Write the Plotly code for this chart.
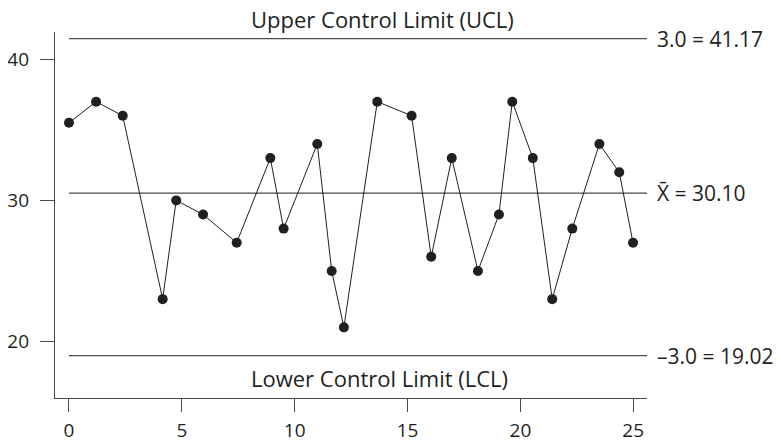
import plotly.graph_objects as go

# Sample observations (x position, measured value)
sample_x = [0, 1.2, 2.38, 4.15, 4.75, 5.94, 7.43, 8.92, 9.51, 11.0, 11.64, 12.18, 13.66,
            15.18, 16.05, 16.96, 18.12, 19.05, 19.64, 20.55, 21.41, 22.3, 23.5, 24.38, 24.99]
sample_y = [35.5, 37, 36, 23, 30, 29, 27, 33, 28, 34, 25, 21, 37,
            36, 26, 33, 25, 29, 37, 33, 23, 28, 34, 32, 27]

# Control lines as drawn
limit_names = ["UCL", "Center", "LCL"]
limit_values = [41.47, 30.51, 18.99]
limit_labels = ["3.0 = 41.17", "X\u0304 = 30.10", "\u20133.0 = 19.02"]
line_start_end = [0, 25.61]

x_ticks = [0, 5, 10, 15, 20, 25]
y_ticks = [20, 30, 40]

FONT = "'Open Sans', Lato, sans-serif"
TXT = "#231f20"

fig = go.Figure()

for name, val in zip(limit_names, limit_values):
    fig.add_trace(go.Scatter(
        x=line_start_end, y=[val, val], mode="lines",
        line=dict(color="#4a4a4a", width=1.2), name=name,
        hoverinfo="skip", showlegend=False, cliponaxis=False))

fig.add_trace(go.Scatter(
    x=sample_x, y=sample_y, mode="lines+markers",
    line=dict(color="#231f20", width=1),
    marker=dict(color="#231f20", size=10),
    showlegend=False, name="Samples"))

annotations = []
for val, lab in zip(limit_values, limit_labels):
    annotations.append(dict(
        x=line_start_end[1], y=val, xref="x", yref="y", text=lab,
        showarrow=False, xanchor="left", yanchor="middle", xshift=8,
        font=dict(family=FONT, size=21, color=TXT)))

annotations.append(dict(
    x=13.9, y=1.035, xref="x", yref="paper", text="Upper Control Limit (UCL)",
    showarrow=False, xanchor="center", yanchor="middle",
    font=dict(family=FONT, size=22, color=TXT)))
annotations.append(dict(
    x=13.75, y=17.4, xref="x", yref="y", text="Lower Control Limit (LCL)",
    showarrow=False, xanchor="center", yanchor="middle",
    font=dict(family=FONT, size=22, color=TXT)))

fig.update_layout(
    width=773, height=435,
    margin=dict(l=47, r=134, t=24, b=45),
    paper_bgcolor="white", plot_bgcolor="white",
    font=dict(family=FONT, size=19, color=TXT),
    annotations=annotations,
    xaxis=dict(range=[-0.62, 25.61], tickvals=x_ticks, ticks="outside", ticklen=13,
               tickwidth=1.2, tickcolor="#4a4a4a", showline=True, linecolor="#4a4a4a",
               linewidth=1.2, showgrid=False, zeroline=False, automargin=False,
               ticklabelstandoff=2,
               tickfont=dict(family=FONT, size=19, color=TXT)),
    yaxis=dict(range=[15.99, 41.94], tickvals=y_ticks, ticks="outside", ticklen=14,
               tickwidth=1.2, tickcolor="#4a4a4a", showline=True, linecolor="#4a4a4a",
               linewidth=1.2, showgrid=False, zeroline=False, automargin=False,
               ticklabelstandoff=7,
               tickfont=dict(family=FONT, size=19, color=TXT)),
)

fig.write_html("out.html")
